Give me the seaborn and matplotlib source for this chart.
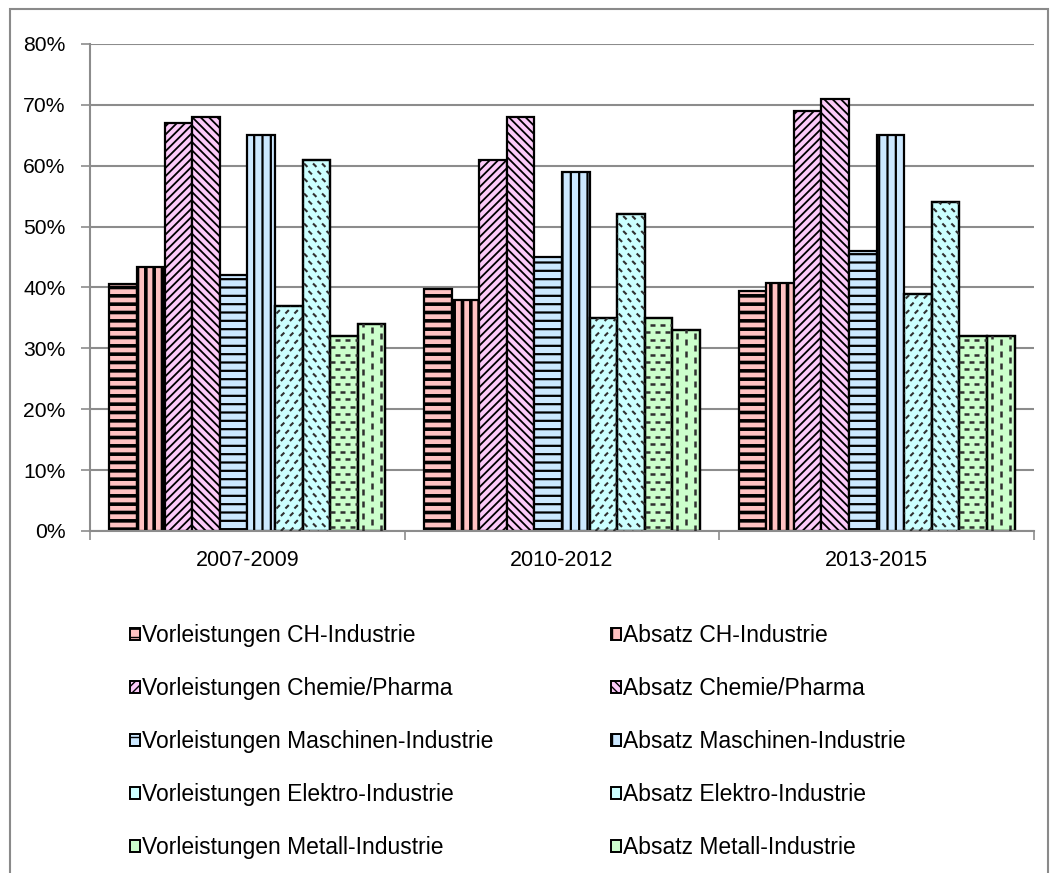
import numpy as np
import pandas as pd
import seaborn as sns
import matplotlib
import matplotlib.pyplot as plt
from matplotlib.patches import Patch, Rectangle
from matplotlib.collections import LineCollection
from matplotlib.transforms import IdentityTransform
from matplotlib.ticker import PercentFormatter, FixedLocator

# ---- data -------------------------------------------------------------
periods = ["2007-2009", "2010-2012", "2013-2015"]

series = [
    "Vorleistungen CH-Industrie", "Absatz CH-Industrie",
    "Vorleistungen Chemie/Pharma", "Absatz Chemie/Pharma",
    "Vorleistungen Maschinen-Industrie", "Absatz Maschinen-Industrie",
    "Vorleistungen Elektro-Industrie", "Absatz Elektro-Industrie",
    "Vorleistungen Metall-Industrie", "Absatz Metall-Industrie",
]

vorl_ch = [40.5, 39.8, 39.5]
abs_ch = [43.4, 38.0, 40.8]
vorl_chem = [67, 61, 69]
abs_chem = [68, 68, 71]
vorl_masch = [42, 45, 46]
abs_masch = [65, 59, 65]
vorl_elektro = [37, 35, 39]
abs_elektro = [61, 52, 54]
vorl_metall = [32, 35, 32]
abs_metall = [34, 33, 32]

values = [vorl_ch, abs_ch, vorl_chem, abs_chem, vorl_masch, abs_masch,
          vorl_elektro, abs_elektro, vorl_metall, abs_metall]

df = pd.DataFrame(
    [(p, s, v[i]) for s, v in zip(series, values) for i, p in enumerate(periods)],
    columns=["period", "series", "value"],
)

# ---- styling ------------------------------------------------------------
c_ch, c_chem, c_masch, c_elek, c_met = "#FFC2C2", "#FCCAF9", "#CCE8FF", "#CCFFFF", "#CCFFCC"
colors = [c_ch, c_ch, c_chem, c_chem, c_masch, c_masch, c_elek, c_elek, c_met, c_met]
# (hatch, hatch linewidth) for the built-in hatches; None -> dashed texture drawn below
hatches = [("--", 2.6), ("||", 2.6), ("////", 1.3), ("\\\\\\\\", 1.3), ("--", 1.6),
           ("||", 1.6), (None, 0), (None, 0), (None, 0), (None, 0)]
dash_kind = {6: "diag_up", 7: "diag_down", 8: "horiz", 9: "vert"}

sns.set_style("white")
plt.rcParams["font.family"] = ["Liberation Sans", "DejaVu Sans"]
plt.rcParams["text.color"] = "black"
plt.rcParams["xtick.labelcolor"] = "black"
plt.rcParams["ytick.labelcolor"] = "black"
grey = "#8C8C8C"

W, H = 1053, 873
fig = plt.figure(figsize=(W / 100, H / 100), dpi=100)
ax = fig.add_axes([90 / W, 1 - 531 / H, (1034 - 90) / W, (531 - 44) / H])

sns.barplot(data=df, x="period", y="value", hue="series", hue_order=series,
            palette=colors, saturation=1, width=0.877, errorbar=None,
            edgecolor="black", linewidth=1.6, legend=False, ax=ax)

for i, cont in enumerate(ax.containers):
    h, lw = hatches[i]
    for bar in cont:
        if h:
            bar.set_hatch(h)
            if hasattr(bar, "set_hatch_linewidth"):
                bar.set_hatch_linewidth(lw)

ax.set_xlim(-0.5, 2.5)
ax.set_ylim(0, 80)
ax.yaxis.set_major_locator(FixedLocator(np.arange(0, 81, 10)))
ax.yaxis.set_major_formatter(PercentFormatter(decimals=0))
ax.xaxis.set_minor_locator(FixedLocator([-0.5, 0.5, 1.5, 2.5]))
ax.set_xlabel("")
ax.set_ylabel("")
ax.grid(axis="y", color=grey, linewidth=1.5)
ax.set_axisbelow(True)
for s in ["top", "right"]:
    ax.spines[s].set_visible(False)
for s in ["left", "bottom"]:
    ax.spines[s].set_color(grey)
    ax.spines[s].set_linewidth(1.5)
ax.tick_params(axis="y", which="major", direction="out", length=6.5, width=1.2,
               color=grey, pad=11, labelsize=15.2, left=True, labelcolor="black")
ax.tick_params(axis="x", which="major", length=0, pad=14, labelsize=15.5,
               labelcolor="black")
ax.tick_params(axis="x", which="minor", direction="out", length=6.5, width=1.2,
               color=grey, bottom=True)

# ---- dashed textures (drawn in pixel space, clipped to each bar) ----------
def dashed_segments(kind, x0, y0, x1, y1):
    segs = []
    if kind == "horiz":
        step, dash, period = 7.5, 5.0, 10.0
        for r, y in enumerate(np.arange(y0 + 4, y1, step)):
            off = (r % 2) * period / 2
            for x in np.arange(x0 - period + off, x1, period):
                segs.append([(x, y), (x + dash, y)])
    elif kind == "vert":
        step, dash, period = 9.0, 6.0, 12.0
        for c, x in enumerate(np.arange(x0 + 5, x1, step)):
            off = (c % 2) * period / 2
            for y in np.arange(y0 - period + off, y1, period):
                segs.append([(x, y), (x, y + dash)])
    else:
        sgn = 1 if kind == "diag_up" else -1
        step, dash, period = 7.5, 3.4, 9.0
        for r, y in enumerate(np.arange(y0 - 30, y1 + 30, step)):
            for x in np.arange(x0 - 30, x1 + 30, period):
                xs = x + (r % 2) * period / 2
                segs.append([(xs, y), (xs + dash, y + sgn * dash)])
    return segs

for i, kind in dash_kind.items():
    for bar in ax.containers[i]:
        bb = bar.get_window_extent()
        segs = dashed_segments(kind, bb.x0, bb.y0, bb.x1, bb.y1)
        lc = LineCollection(segs, colors="#303030",
                            linewidths=1.5 if kind.startswith("diag") else 1.8,
                            transform=IdentityTransform(), zorder=bar.get_zorder() + 0.1)
        lc.set_clip_path(bar)
        fig.add_artist(lc)
        # re-draw the bar outline on top of the texture
        outline = Rectangle(bar.get_xy(), bar.get_width(), bar.get_height(),
                            facecolor="none", edgecolor="black", linewidth=1.6,
                            zorder=bar.get_zorder() + 0.2)
        ax.add_patch(outline)

# ---- legend -------------------------------------------------------------
def handle(i):
    h, lw = hatches[i]
    return Patch(facecolor=colors[i], edgecolor="black", linewidth=1.4, hatch=h)

leg_font = {"family": ["Liberation Sans", "DejaVu Sans"], "size": 16.5}
common = dict(frameon=False, prop=leg_font, handlelength=0.45, handleheight=0.45,
              handletextpad=0.06, labelspacing=1.31, borderpad=0, borderaxespad=0,
              loc="upper left", labelcolor="black")
fig.legend([handle(i) for i in range(0, 10, 2)], series[0::2],
           bbox_to_anchor=(130 / W, 1 - 624 / H), **common)
fig.legend([handle(i) for i in range(1, 10, 2)], series[1::2],
           bbox_to_anchor=(611 / W, 1 - 624 / H), **common)

# outer frame
fig.add_artist(Rectangle((10 / W, -0.02), (1048 - 10) / W, 1 - 9 / H + 0.02,
                         transform=fig.transFigure, facecolor="none",
                         edgecolor="#8A8A8A", linewidth=1.5))

fig.savefig("out.png", dpi=100)
